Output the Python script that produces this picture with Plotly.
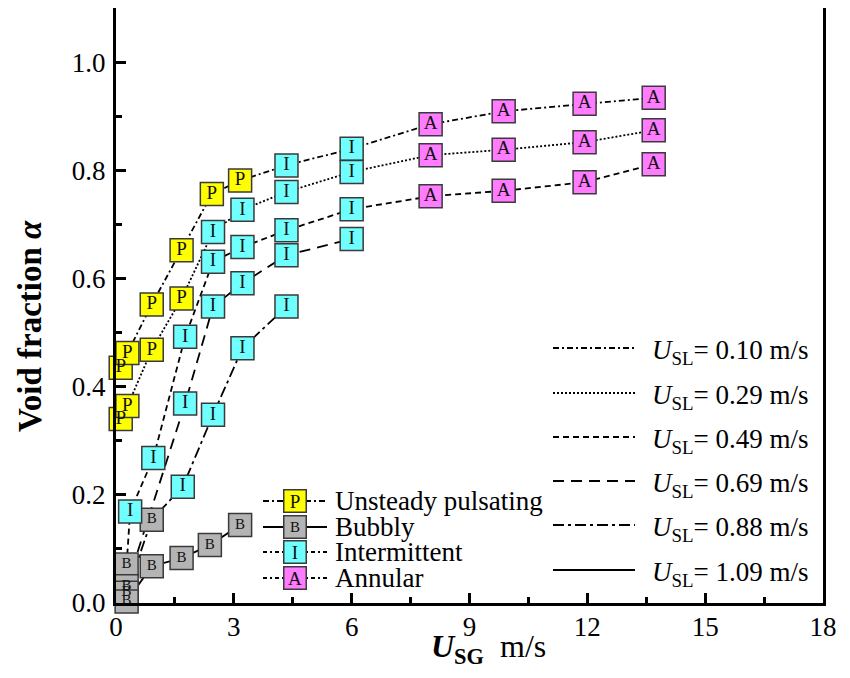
import plotly.graph_objects as go

# ---------------- data ----------------
usg_010 = [0.12, 0.29, 0.91, 1.67, 2.44, 3.16, 4.34, 6.00, 8.01, 9.87, 11.93, 13.69]
alpha_010 = [0.435, 0.462, 0.552, 0.652, 0.756, 0.781, 0.809, 0.840, 0.885, 0.909, 0.923, 0.934]
regime_010 = ["P", "P", "P", "P", "P", "P", "I", "I", "A", "A", "A", "A"]

usg_029 = [0.12, 0.29, 0.91, 1.67, 2.47, 3.22, 4.34, 6.00, 8.01, 9.87, 11.93, 13.69]
alpha_029 = [0.340, 0.364, 0.468, 0.563, 0.686, 0.727, 0.760, 0.797, 0.828, 0.838, 0.852, 0.874]
regime_029 = ["P", "P", "P", "P", "I", "I", "I", "I", "A", "A", "A", "A"]

usg_049 = [0.27, 0.36, 0.95, 1.76, 2.47, 3.22, 4.34, 6.00, 8.01, 9.87, 11.93, 13.69]
alpha_049 = [0.071, 0.169, 0.268, 0.492, 0.631, 0.658, 0.689, 0.728, 0.752, 0.762, 0.778, 0.811]
regime_049 = ["B", "I", "I", "I", "I", "I", "I", "I", "A", "A", "A", "A"]

usg_069 = [0.27, 1.76, 2.47, 3.22, 4.34, 6.00]
alpha_069 = [0.031, 0.369, 0.548, 0.591, 0.643, 0.673]
regime_069 = ["B", "I", "I", "I", "I", "I"]

usg_088 = [0.27, 0.91, 1.70, 2.47, 3.22, 4.34]
alpha_088 = [0.019, 0.154, 0.215, 0.348, 0.471, 0.548]
regime_088 = ["B", "B", "I", "I", "I", "I"]

usg_109 = [0.27, 0.91, 1.67, 2.39, 3.16]
alpha_109 = [0.003, 0.068, 0.083, 0.107, 0.144]
regime_109 = ["B", "B", "B", "B", "B"]

usl_labels = ["0.10", "0.29", "0.49", "0.69", "0.88", "1.09"]
regime_codes = ["P", "B", "I", "A"]
regime_names = ["Unsteady pulsating", "Bubbly", "Intermittent", "Annular"]

x_ticks = [0, 3, 6, 9, 12, 15, 18]

# ---------------- styles ----------------
series = [
    (usg_010, alpha_010, regime_010, "6px,3px,2px,3px"),
    (usg_029, alpha_029, regime_029, "2px,2px"),
    (usg_049, alpha_049, regime_049, "6px,4px"),
    (usg_069, alpha_069, regime_069, "11px,7px"),
    (usg_088, alpha_088, regime_088, "11px,4px,3px,4px"),
    (usg_109, alpha_109, regime_109, "solid"),
]
regime_fill = {"P": "#FFFF00", "B": "#B4B4B4", "I": "#70FFFF", "A": "#FF7BFF"}
regime_tsize = {"P": 19, "B": 15, "I": 19, "A": 19}
regime_line = {"P": "6px,3px,2px,3px", "B": "solid", "I": "4px,3px,2px,3px", "A": "4px,3px,2px,3px"}

SERIF = "Liberation Serif, Times New Roman, serif"

fig = go.Figure()

# connecting lines (one per liquid velocity)
for xs, ys, regs, dash in series:
    fig.add_trace(go.Scatter(x=xs, y=ys, mode="lines",
                             line=dict(color="black", width=1.8, dash=dash),
                             hoverinfo="skip", cliponaxis=False))

# regime markers (squares with letter)
for code in regime_codes:
    mx, my = [], []
    for xs, ys, regs, dash in series:
        for xv, yv, rv in zip(xs, ys, regs):
            if rv == code:
                mx.append(xv)
                my.append(yv)
    fig.add_trace(go.Scatter(
        x=mx, y=my, mode="markers+text", text=[code] * len(mx),
        textposition="middle center",
        textfont=dict(family=SERIF, size=regime_tsize[code], color="#111"),
        marker=dict(symbol="square", size=23, color=regime_fill[code],
                    line=dict(color="#3a3a3a", width=1.5)),
        cliponaxis=False, hoverinfo="x+y"))

# ---------------- layout ----------------
# The page body adds an 8px offset; target plot box in screen pixels:
OFF = 8
PL, PR, PT, PB = 116, 823, 7, 603          # plot box on screen
W, H = 850, 678
L = PL - OFF
T = max(PT - OFF, 0)
R = W - (PR - OFF)
B = H - (PB - OFF)
pw, ph = PR - PL, PB - (T + OFF)


def px2paper(px, py):
    return (px - PL) / pw, (PB - py) / ph


axis_common = dict(
    showline=True, linewidth=3, linecolor="black", mirror=True,
    showgrid=False, zeroline=False, automargin=False,
    ticks="inside", ticklen=10, tickwidth=2.5, tickcolor="black",
    tickfont=dict(family=SERIF, size=27, color="black"),
)
fig.update_xaxes(range=[0, 18], tickvals=x_ticks, ticktext=[str(v) for v in x_ticks],
                 minor=dict(dtick=1.5, tick0=0, ticks="inside", ticklen=6, tickwidth=2.5, tickcolor="black"),
                 ticklabelstandoff=-2, **axis_common)
fig.update_yaxes(range=[0, 1.1], dtick=0.2, tick0=0, tickformat=".1f",
                 minor=dict(dtick=0.1, tick0=0, ticks="inside", ticklen=6, tickwidth=2.5, tickcolor="black"),
                 ticklabelstandoff=2, **axis_common)

annotations = []
shapes = []

# axis titles
tx, ty = px2paper(30, 326)
annotations.append(dict(xref="paper", yref="paper", x=tx, y=ty, textangle=-90,
                        text="<b>Void fraction <i>α</i></b>", showarrow=False,
                        font=dict(family=SERIF, size=33, color="black"),
                        xanchor="center", yanchor="middle"))
tx, ty = px2paper(488, 648)
annotations.append(dict(xref="paper", yref="paper", x=tx, y=ty,
                        text="<b><i>U</i></b><sub><b>SG</b></sub>  m/s", showarrow=False,
                        font=dict(family=SERIF, size=32, color="black"),
                        xanchor="center", yanchor="middle"))

# regime legend (box with letter + line sample)
reg_rows = [501, 527, 552, 578]
for code, name, ry in zip(regime_codes, regime_names, reg_rows):
    x0, y0 = px2paper(263, ry)
    x1, _ = px2paper(327, ry)
    shapes.append(dict(type="line", xref="paper", yref="paper", x0=x0, x1=x1, y0=y0, y1=y0,
                       line=dict(color="black", width=1.8, dash=regime_line[code])))
    bx, by = px2paper(295, ry)
    annotations.append(dict(xref="paper", yref="paper", x=bx, y=by, text=code, showarrow=False,
                            font=dict(family=SERIF, size=regime_tsize[code], color="#111"),
                            bgcolor=regime_fill[code], bordercolor="#3a3a3a", borderwidth=1.5,
                            borderpad=0, width=21, height=21, xanchor="center", yanchor="middle"))
    lx, ly = px2paper(333, ry)
    annotations.append(dict(xref="paper", yref="paper", x=lx, y=ly, text=name, showarrow=False,
                            font=dict(family=SERIF, size=27, color="black"),
                            xanchor="left", yanchor="middle"))

# liquid-velocity legend
usl_rows = [348, 393, 437, 481, 525, 570]
for (xs, ys, regs, dash), lab, ry in zip(series, usl_labels, usl_rows):
    x0, y0 = px2paper(553, ry)
    x1, _ = px2paper(635, ry)
    shapes.append(dict(type="line", xref="paper", yref="paper", x0=x0, x1=x1, y0=y0, y1=y0,
                       line=dict(color="black", width=1.8, dash=dash)))
    lx, ly = px2paper(650, ry + 4)
    annotations.append(dict(xref="paper", yref="paper", x=lx, y=ly,
                            text="<i>U</i><sub>SL</sub>= " + lab + " m/s", showarrow=False,
                            font=dict(family=SERIF, size=27, color="black"),
                            xanchor="left", yanchor="middle"))

fig.update_layout(width=W, height=H, margin=dict(l=L, r=R, t=T, b=B),
                  paper_bgcolor="white", plot_bgcolor="white", showlegend=False,
                  annotations=annotations, shapes=shapes)

fig.write_html("out.html")
